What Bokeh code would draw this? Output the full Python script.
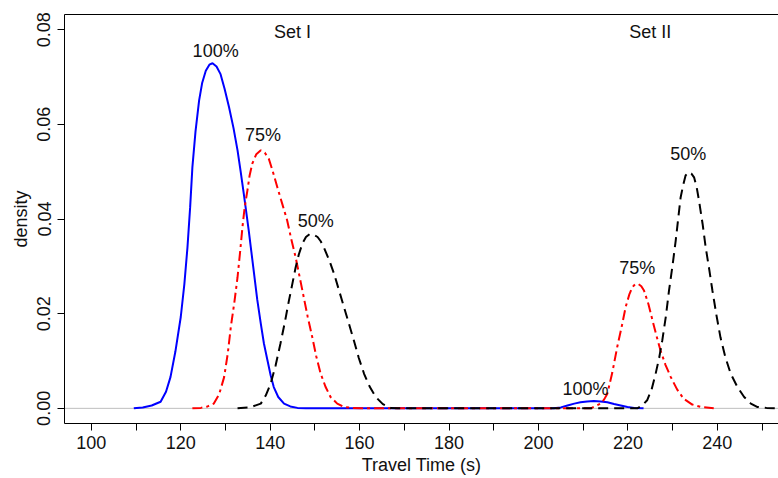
from bokeh.plotting import figure
from bokeh.models import (FixedTicker, LinearAxis, ColumnDataSource, Span, Title,
                          PrintfTickFormatter, Range1d)
from bokeh.core.properties import value
from bokeh.embed import file_html
from bokeh.resources import INLINE

# ---------------- data ----------------
blue_x = [109.5, 111.5, 113.5, 115.5, 116.7, 117.7, 118.8, 120.0, 120.8, 121.5, 122.1, 122.6,
          123.3, 124.1, 124.8, 125.6, 126.4, 127.1, 128.0, 128.9, 129.8, 130.8, 131.8, 132.7,
          133.4, 134.1, 135.2, 135.8, 136.4, 137.1, 137.9, 138.6, 139.4, 140.1, 140.8, 141.8,
          143.1, 144.5, 146.1, 148.0, 180.0, 200.0, 203.4, 205.0, 206.5, 208.0, 209.4, 210.9,
          212.4, 213.9, 215.4, 216.9, 218.4, 219.9, 221.4, 223.5]
blue_y = [0.0, 0.0002, 0.0006, 0.0014, 0.0035, 0.0066, 0.0120, 0.0193, 0.0262, 0.0340, 0.0425,
          0.0509, 0.0585, 0.0650, 0.0688, 0.0713, 0.0726, 0.0729, 0.0722, 0.0706, 0.0675, 0.0636,
          0.0592, 0.0545, 0.0500, 0.0453, 0.0376, 0.0330, 0.0284, 0.0230, 0.0179, 0.0137, 0.0101,
          0.0070, 0.0045, 0.0024, 0.0010, 0.0004, 0.0001, 0.0, 0.0, 0.0, 0.0, 0.0002, 0.0006,
          0.0010, 0.00127, 0.00147, 0.00154, 0.00147, 0.00127, 0.0009, 0.0006, 0.0003, 0.0001,
          0.0]

red_x = [122.6, 124.5, 126.0, 127.4, 128.6, 129.7, 130.5, 131.2, 132.0, 132.7, 133.3, 133.8,
         134.3, 134.9, 135.4, 136.0, 136.9, 137.9, 138.8, 139.7, 140.6, 141.6, 142.7, 143.8,
         144.7, 145.7, 146.6, 147.5, 148.4, 149.4, 150.3, 151.3, 152.4, 153.5, 155.0, 156.5,
         158.5, 160.2, 180.0, 200.0, 211.7, 213.9, 214.7, 215.4, 216.5, 217.6, 218.6, 219.5,
         220.3, 221.0, 221.6, 222.3, 223.0, 223.6, 224.6, 225.5, 226.4, 227.3, 228.4, 229.6,
         231.0, 232.5, 234.4, 236.3, 239.2]
red_y = [0.0, 0.0001, 0.0004, 0.0010, 0.0030, 0.0066, 0.0115, 0.0172, 0.0225, 0.0277, 0.0333,
         0.0383, 0.0425, 0.0460, 0.0492, 0.0517, 0.0537, 0.0545, 0.0540, 0.0527, 0.0500, 0.0467,
         0.0432, 0.0397, 0.0358, 0.0319, 0.0277, 0.0235, 0.0193, 0.0151, 0.0110, 0.0073, 0.0045,
         0.0024, 0.0010, 0.0003, 0.0001, 0.0, 0.0, 0.0, 0.0, 0.0010, 0.0019, 0.0031, 0.0075,
         0.0129, 0.0172, 0.0214, 0.0240, 0.0256, 0.0262, 0.0263, 0.0258, 0.0249, 0.0220, 0.0186,
         0.0153, 0.0122, 0.0092, 0.0066, 0.0040, 0.0020, 0.0008, 0.0003, 0.0]

black_x = [132.7, 135.5, 137.9, 139.0, 140.1, 141.2, 142.3, 143.3, 144.2, 145.0, 145.7, 146.4,
           147.2, 148.0, 148.8, 149.7, 150.6, 151.3, 152.0, 153.2, 154.3, 155.4, 156.5, 157.6,
           158.7, 159.8, 161.0, 162.3, 163.6, 165.2, 166.9, 168.5, 180.0, 200.0, 222.1, 223.2,
           224.3, 225.3, 226.2, 227.0, 227.7, 228.5, 229.2, 230.0, 230.7, 231.3, 231.8, 232.4,
           232.9, 233.6, 234.2, 234.8, 235.4, 235.9, 236.7, 237.4, 238.2, 238.9, 239.8, 240.7,
           241.8, 243.0, 244.5, 246.0, 247.5, 248.9, 251.0, 253.4]
black_y = [0.0, 0.0002, 0.0010, 0.0027, 0.0052, 0.0090, 0.0137, 0.0183, 0.0228, 0.0265, 0.0298,
           0.0325, 0.0348, 0.0362, 0.0368, 0.0367, 0.0362, 0.0353, 0.0340, 0.0313, 0.0284, 0.0249,
           0.0214, 0.0179, 0.0144, 0.0107, 0.0073, 0.0045, 0.0024, 0.0009, 0.0001, 0.0, 0.0, 0.0,
           0.0, 0.0006, 0.0017, 0.0040, 0.0073, 0.0107, 0.0144, 0.0195, 0.0249, 0.0303, 0.0355,
           0.0405, 0.0446, 0.0473, 0.0492, 0.0499, 0.0496, 0.0488, 0.0466, 0.0439, 0.0390, 0.0340,
           0.0293, 0.0249, 0.0197, 0.0150, 0.0108, 0.0073, 0.0045, 0.0024, 0.0010, 0.0003, 0.0001,
           0.0]

peak_label_x = [127.8, 138.4, 150.2, 210.5, 222.1, 233.5]
peak_label_y = [0.07543, 0.05785, 0.03960, 0.00411, 0.02967, 0.05375]
peak_label_text = ["100%", "75%", "50%", "100%", "75%", "50%"]

set_label_x = [145.0, 225.0]
set_label_y = [0.07946, 0.07946]
set_label_text = ["Set I", "Set II"]

x_ticks = [100, 110, 120, 130, 140, 150, 160, 170, 180, 190, 200, 210, 220, 230, 240, 250]
x_tick_labels = ["100", "", "120", "", "140", "", "160", "", "180", "", "200", "", "220", "",
                 "240", ""]
y_ticks = [0.0, 0.02, 0.04, 0.06, 0.08]

x_title = "Travel Time (s)"
y_title = "density"

# ---------------- figure ----------------
FONT = "Liberation Sans"
FS = "18px"

p = figure(frame_width=714, frame_height=409,
           x_range=Range1d(94, 94 + 714 / 4.4714), y_range=Range1d(-0.0032, 0.0832),
           output_backend="svg", toolbar_location=None,
           min_border_left=64, min_border_right=0, min_border_top=14, min_border_bottom=55)
p.outline_line_color = None
p.xgrid.visible = False
p.ygrid.visible = False
p.background_fill_color = "white"
p.border_fill_color = "white"

# baseline
p.add_layout(Span(location=0, dimension="width", line_color="#BEBEBE", line_width=1,
                  level="underlay"))

p.line(blue_x, blue_y, line_color="#0000FF", line_width=2)
p.line(red_x, red_y, line_color="#FF0000", line_width=2, line_dash="10 4 3 4")
p.line(black_x, black_y, line_color="#000000", line_width=2, line_dash="10 6")

lab_src = ColumnDataSource(dict(x=peak_label_x, y=peak_label_y, text=peak_label_text))
p.text(x="x", y="y", text="text", source=lab_src, text_font=value(FONT),
       text_font_size=value(FS), text_align="center", text_baseline="middle",
       text_color="#111111")
set_src = ColumnDataSource(dict(x=set_label_x, y=set_label_y, text=set_label_text))
p.text(x="x", y="y", text="text", source=set_src, text_font=value(FONT),
       text_font_size=value(FS), text_align="center", text_baseline="middle",
       text_color="#111111")

# x axis
xa = p.xaxis[0]
xa.ticker = FixedTicker(ticks=x_ticks)
xa.major_label_overrides = {t: l for t, l in zip(x_ticks, x_tick_labels)}
xa.minor_tick_line_color = None
xa.major_tick_out = 7
xa.major_tick_in = 0
xa.major_label_standoff = 5
xa.major_label_text_font = FONT
xa.major_label_text_font_size = FS
xa.major_label_text_color = "#111111"
xa.axis_line_color = "black"
xa.major_tick_line_color = "black"

# x title (shifted to the centre of the full, partly cropped, plotting region)
p.add_layout(Title(text=x_title, align="center", offset=5, standoff=2,
                   text_line_height=0.9,
                   text_font=FONT, text_font_size=FS, text_font_style="normal",
                   text_color="#111111"), "below")

# y axis
ya = p.yaxis[0]
ya.ticker = FixedTicker(ticks=y_ticks)
ya.formatter = PrintfTickFormatter(format="%.2f")
ya.major_label_orientation = "vertical"
ya.minor_tick_line_color = None
ya.major_tick_out = 7
ya.major_tick_in = 0
ya.major_label_standoff = 7
ya.major_label_text_font = FONT
ya.major_label_text_font_size = FS
ya.major_label_text_color = "#111111"
ya.axis_line_color = "black"
ya.major_tick_line_color = "black"
ya.axis_label = y_title
ya.axis_label_text_font = FONT
ya.axis_label_text_font_size = FS
ya.axis_label_text_font_style = "normal"
ya.axis_label_text_color = "#111111"
ya.axis_label_standoff = 4

# top border line
top = LinearAxis(ticker=FixedTicker(ticks=[]), major_label_text_font_size="0px",
                 major_tick_line_color=None, minor_tick_line_color=None,
                 axis_line_color="black", major_label_standoff=0)
p.add_layout(top, "above")

open("out.html", "w").write(file_html(p, INLINE))
